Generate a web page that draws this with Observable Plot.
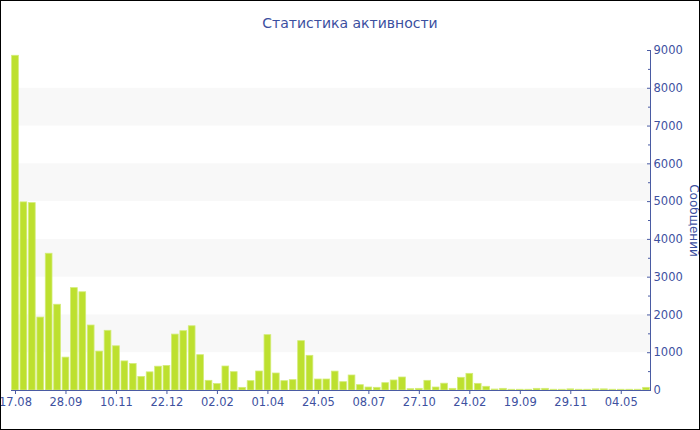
<!DOCTYPE html>
<html>
<head>
<meta charset="utf-8">
<script src="https://cdn.jsdelivr.net/npm/d3@7"></script>
<script src="https://cdn.jsdelivr.net/npm/@observablehq/plot@0.6"></script>
<style>
  html, body { margin: 0; padding: 0; background: #fff; }
  #wrap { position: relative; width: 700px; height: 430px; overflow: hidden; font-family: "DejaVu Sans", Verdana, sans-serif; }
  #title { position: absolute; left: 0; top: 15px; width: 700px; text-align: center; font-size: 14px; color: #3b4f9f; }
  #border { position: absolute; left: 0; top: 0; width: 700px; height: 430px; box-sizing: border-box; border: 1px solid #000; pointer-events: none; }
  #chart svg { display: block; }
</style>
</head>
<body>
<div id="wrap">
  <div id="chart"></div>
  <div id="title">Статистика активности</div>
  <div id="border"></div>
</div>
<script>
const title = "Статистика активности";
const yLabel = "Сообщений";

// Message counts per period (76 bars, left to right)
const values = [
  8860, 4980, 4960, 1930, 3620, 2270, 870, 2710, 2600, 1720,
  1030, 1580, 1170, 770, 700, 360, 480, 630, 650, 1480,
  1570, 1700, 935, 256, 170, 635, 485, 70, 247, 503,
  1465, 450, 247, 274, 1306, 918, 291, 291, 500, 220,
  397, 141, 79, 71, 194, 265, 344, 35, 44, 256,
  79, 180, 44, 336, 441, 176, 98, 26, 44, 20,
  20, 20, 44, 44, 20, 20, 30, 20, 20, 30,
  30, 20, 20, 20, 20, 70
];

// X tick labels and the bar index they sit under
const tickLabels = ["17.08", "28.09", "10.11", "22.12", "02.02", "01.04", "24.05", "08.07", "27.10", "24.02", "19.09", "29.11", "04.05"];
const tickIndex  = [0, 6, 12, 18, 24, 30, 36, 42, 48, 54, 60, 66, 72];

const yTicks = [0, 1000, 2000, 3000, 4000, 5000, 6000, 7000, 8000, 9000];
const yMinorTicks = [500, 1500, 2500, 3500, 4500, 5500, 6500, 7500, 8500];

const bars = values.map((v, i) => ({i, v}));
const stripes = yTicks.slice(0, -1).map((t, k) => ({y1: t, y2: yTicks[k + 1], k})).filter(d => d.k % 2 === 1);
const labelOf = new Map(tickIndex.map((idx, k) => [idx, tickLabels[k]]));

const axisColor = "#4a5ba3";
const textColor = "#3e519f";

const chart = Plot.plot({
  width: 700,
  height: 430,
  marginTop: 50,
  marginBottom: 40,
  marginLeft: 11,
  marginRight: 50,
  style: {fontFamily: "DejaVu Sans, Verdana, sans-serif", fontSize: "11px", background: "transparent", overflow: "visible"},
  x: {type: "band", domain: bars.map(d => d.i), paddingInner: 0.2, paddingOuter: 0.075, align: 0.5},
  y: {domain: [0, 9000]},
  marks: [
    Plot.rect(stripes, {y1: "y1", y2: "y2", fill: "#f8f8f8"}),
    Plot.barY(bars, {x: "i", y: "v", fill: "#bde02f", stroke: "#d3ec78", strokeWidth: 0.8}),
    Plot.frame({anchor: "bottom", stroke: axisColor}),
    Plot.frame({anchor: "right", stroke: axisColor}),
    Plot.axisX({ticks: tickIndex, tickFormat: d => labelOf.get(d), tickSize: 4, tickPadding: 3, stroke: axisColor, fill: textColor, label: null, fontSize: 11.5}),
    Plot.axisY({anchor: "right", ticks: yTicks, tickFormat: d => String(d), tickSize: 0, tickPadding: 3, fill: textColor, label: null, fontSize: 11.5, textAnchor: "start"}),
    Plot.axisY({anchor: "right", ticks: yTicks, tickSize: -4, tickFormat: () => "", stroke: axisColor, label: null}),
    Plot.axisY({anchor: "right", ticks: yMinorTicks, tickSize: -3, tickFormat: () => "", stroke: axisColor, label: null}),
    Plot.text([yLabel], {frameAnchor: "right", text: d => d, rotate: 90, dx: 43, textAnchor: "middle", fill: textColor, fontSize: 12})
  ]
});
document.getElementById("chart").appendChild(chart);
</script>
</body>
</html>
